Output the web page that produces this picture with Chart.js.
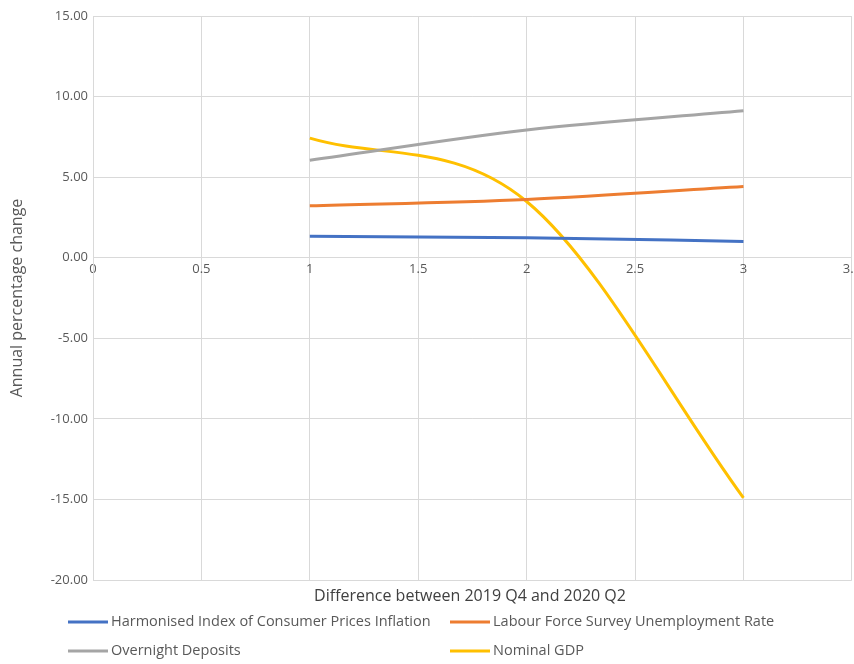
<!DOCTYPE html>
<html>
<head>
<meta charset="utf-8">
<script src="https://cdn.jsdelivr.net/npm/chart.js@4/dist/chart.umd.min.js"></script>
<style>
  html, body { margin: 0; padding: 0; background: #ffffff; overflow: hidden; }
  #wrap { position: absolute; left: 0; top: 0; width: 865px; height: 664px; }
</style>
</head>
<body>
<div id="wrap"><canvas id="chart"></canvas></div>
<script>
// Quarters elapsed (x) and annual percentage change per indicator
const xValues = [1, 2, 3];
const hicpInflation = [1.33, 1.24, 1.01];
const unemploymentRate = [3.22, 3.62, 4.42];
const overnightDeposits = [6.05, 7.93, 9.12];
const nominalGdp = [7.42, 3.49, -14.90];

const seriesNames = [
  'Harmonised Index of Consumer Prices Inflation',
  'Labour Force Survey Unemployment Rate',
  'Overnight Deposits',
  'Nominal GDP'
];
const seriesColors = ['#4472C4', '#ED7D31', '#A5A5A5', '#FFC000'];
const xAxisTitle = 'Difference between 2019 Q4 and 2020 Q2';
const yAxisTitle = 'Annual percentage change';

const toPoints = (ys) => xValues.map((x, i) => ({ x: x, y: ys[i] }));
const allSeries = [hicpInflation, unemploymentRate, overnightDeposits, nominalGdp];

const textColor = '#595959';
const gridColor = '#d9d9d9';
const fontFamily = '"Open Sans", "Liberation Sans", sans-serif';

// Draws the x-axis title and a two-column legend beneath the plot
const bottomNotes = {
  id: 'bottomNotes',
  afterDraw(chart) {
    const ctx = chart.ctx;
    const area = chart.chartArea;
    ctx.save();
    ctx.fillStyle = '#404040';
    ctx.font = '16px ' + fontFamily;
    ctx.textAlign = 'center';
    ctx.textBaseline = 'middle';
    ctx.fillText(xAxisTitle, 470, area.bottom + 16);

    const colX = [68, 450];
    const rowY = [area.bottom + 42, area.bottom + 71];
    ctx.font = '14.5px ' + fontFamily;
    ctx.textAlign = 'left';
    chart.data.datasets.forEach((ds, i) => {
      const cx = colX[i % 2];
      const cy = rowY[Math.floor(i / 2)];
      ctx.strokeStyle = ds.borderColor;
      ctx.lineWidth = 3;
      ctx.beginPath();
      ctx.moveTo(cx, cy);
      ctx.lineTo(cx + 40, cy);
      ctx.stroke();
      ctx.fillStyle = textColor;
      ctx.fillText(ds.label, cx + 43, cy);
    });
    ctx.restore();
  }
};

new Chart(document.getElementById('chart'), {
  type: 'scatter',
  data: {
    datasets: allSeries.map((ys, i) => ({
      label: seriesNames[i],
      data: toPoints(ys),
      showLine: true,
      borderColor: seriesColors[i],
      backgroundColor: seriesColors[i],
      borderWidth: 3,
      cubicInterpolationMode: 'monotone',
      pointRadius: 0,
      pointHoverRadius: 0
    }))
  },
  options: {
    responsive: true,
    maintainAspectRatio: false,
    animation: false,
    layout: { padding: { top: 16, right: 0, bottom: 84, left: 0 } },
    plugins: {
      legend: { display: false },
      tooltip: { enabled: false }
    },
    scales: {
      x: {
        type: 'linear',
        position: { y: 0 },
        min: 0,
        max: 3.5,
        ticks: {
          stepSize: 0.5,
          color: textColor,
          font: { family: fontFamily, size: 13 },
          padding: 4,
          maxRotation: 0,
          autoSkip: false,
          callback: (v) => String(v)
        },
        grid: { color: gridColor, lineWidth: 1, drawTicks: false },
        border: { color: gridColor, width: 1 }
      },
      y: {
        min: -20,
        max: 15,
        ticks: {
          stepSize: 5,
          color: textColor,
          font: { family: fontFamily, size: 13 },
          padding: 5,
          callback: (v) => Number(v).toFixed(2)
        },
        grid: { color: gridColor, lineWidth: 1, drawTicks: false },
        border: { color: gridColor, width: 1 },
        title: {
          display: true,
          text: yAxisTitle,
          color: textColor,
          font: { family: fontFamily, size: 16 },
          padding: { top: 8, bottom: 0 }
        },
        afterFit(scale) { scale.width = 93; }
      }
    }
  },
  plugins: [bottomNotes]
});
</script>
</body>
</html>
